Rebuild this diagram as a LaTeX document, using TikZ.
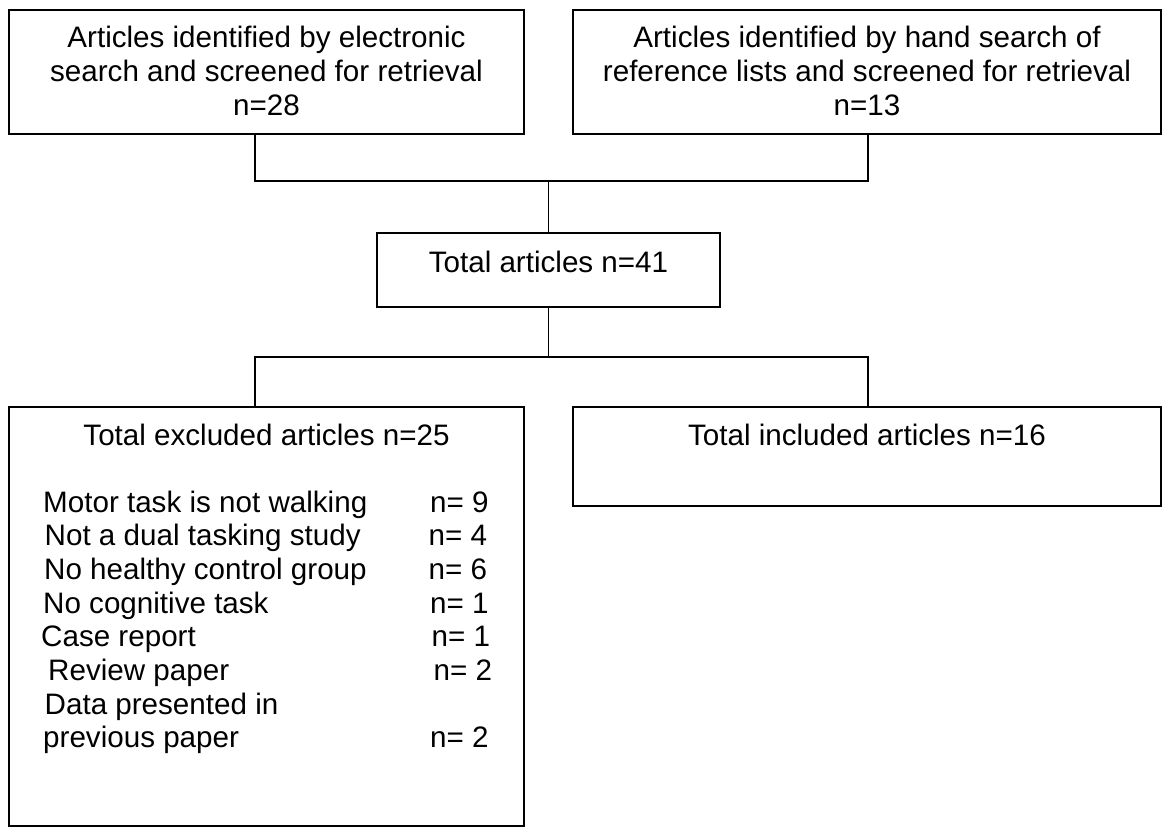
\documentclass[tikz,border=0pt]{standalone}
\usepackage{fontspec}
\setmainfont{Liberation Sans}
\begin{document}
\begin{tikzpicture}[x=1pt,y=-1pt,
  box/.style={draw=black,line width=2pt,rectangle,inner sep=0pt,outer sep=0pt},
  conn/.style={draw=black,line width=1.6pt},
  txt/.style={inner sep=0pt,anchor=base,font=\fontsize{29.6}{34}\selectfont},
  ltxt/.style={inner sep=0pt,anchor=base west,font=\fontsize{29.6}{34}\selectfont}]
\useasboundingbox (0,0) rectangle (1165,828);
% boxes
\node[box,minimum width=515pt,minimum height=124pt] (b1) at (266.5,72) {};
\node[box,minimum width=588pt,minimum height=124pt] (b2) at (867,72) {};
\node[box,minimum width=343pt,minimum height=74pt] (b3) at (548.5,270) {};
\node[box,minimum width=515pt,minimum height=419pt] (b4) at (266.5,616.5) {};
\node[box,minimum width=588pt,minimum height=99pt] (b5) at (867,456.5) {};
% texts
\node[txt] (t1a) at (266.5,47) {Articles identified by electronic};
\node[txt] (t1b) at (266.5,81) {search and screened for retrieval};
\node[txt] (t1c) at (266.5,115) {n=28};
\node[txt] (t2a) at (867,47) {Articles identified by hand search of};
\node[txt] (t2b) at (867,81) {reference lists and screened for retrieval};
\node[txt] (t2c) at (867,115) {n=13};
\node[txt] (t3) at (548.5,272) {Total articles n=41};
\node[txt] (t4) at (266.5,445) {Total excluded articles n=25};
\node[txt] (t5) at (867,445) {Total included articles n=16};
% exclusion list
\node[ltxt] (e1) at (43,512) {Motor task is not walking};
\node[ltxt] (n1) at (430,512) {n= 9};
\node[ltxt] (e2) at (44.5,545) {Not a dual tasking study};
\node[ltxt] (n2) at (428.5,545) {n= 4};
\node[ltxt] (e3) at (44,579) {No healthy control group};
\node[ltxt] (n3) at (428.5,579) {n= 6};
\node[ltxt] (e4) at (43,613) {No cognitive task};
\node[ltxt] (n4) at (430,613) {n= 1};
\node[ltxt] (e5) at (41,646) {Case report};
\node[ltxt] (n5) at (431.5,646) {n= 1};
\node[ltxt] (e6) at (48,680) {Review paper};
\node[ltxt] (n6) at (433.5,680) {n= 2};
\node[ltxt] (e7) at (44.5,714) {Data presented in};
\node[ltxt] (e8) at (43,747) {previous paper};
\node[ltxt] (n8) at (430,747) {n= 2};
% connectors
\coordinate (jl) at (255,181);
\coordinate (jr) at (868,181);
\coordinate (jm) at (548.5,181);
\coordinate (kl) at (255,357);
\coordinate (kr) at (868,357);
\draw[conn] (jl |- b1.south) -- (jl) -- (jr) -- (jr |- b2.south);
\draw[conn] (jm) -- (b3.north);
\draw[conn] (b3.south) -- (b3.south |- kl);
\draw[conn] (kl |- b4.north) -- (kl) -- (kr) -- (kr |- b5.north);
\end{tikzpicture}
\end{document}
